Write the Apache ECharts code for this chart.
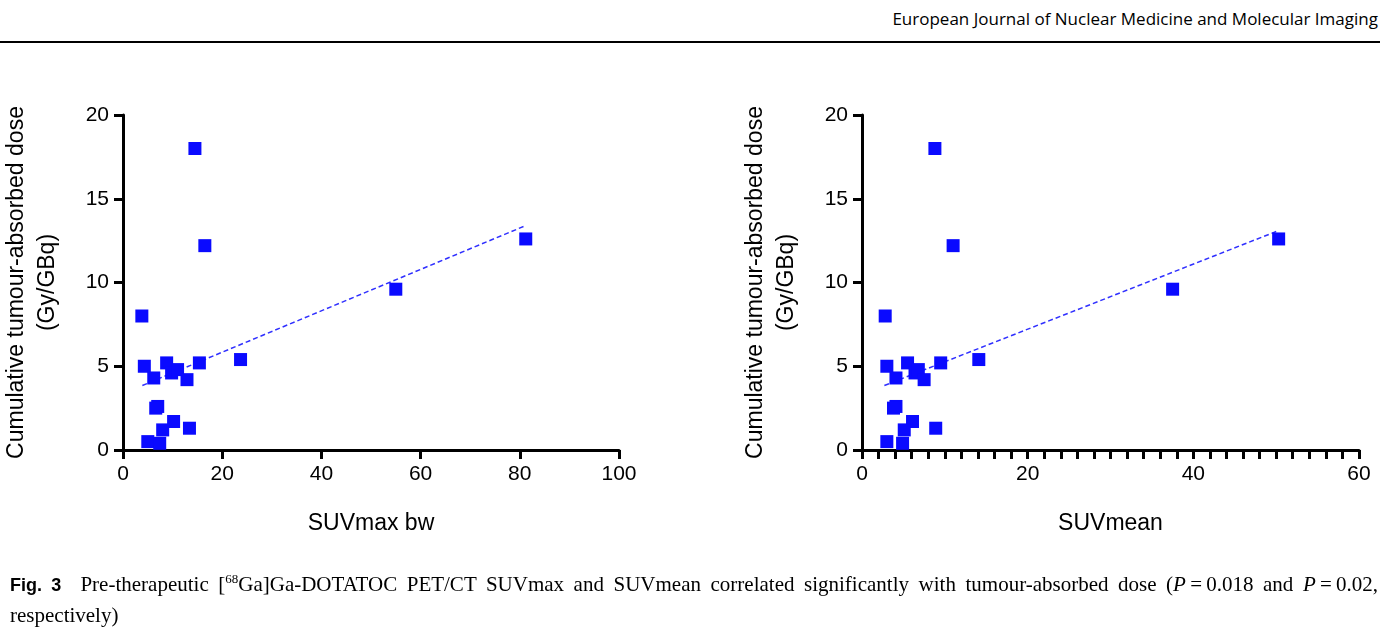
<!DOCTYPE html>
<html lang="en">
<head>
<meta charset="UTF-8">
<title>Fig. 3</title>
<script src="https://cdn.jsdelivr.net/npm/echarts@6/dist/echarts.min.js"></script>
<style>
	body{margin:0;background:#fff;}
	#head{position:absolute;left:0;top:0;width:1380px;height:41px;border-bottom:2px solid #000;}
	#head span{position:absolute;right:2px;top:7px;font-family:"Open Sans","Liberation Sans",sans-serif;font-size:17px;}
	#main{position:absolute;left:0;top:0;width:1387px;height:628px;}
	#cap{position:absolute;left:10px;top:564px;width:1368px;font-family:"Liberation Serif",serif;font-size:21px;line-height:30px;text-align:justify;}
	#cap b{font-family:"Liberation Sans",sans-serif;font-size:18px;}
</style>
</head>
<body>
<div id="head"><span>European Journal of Nuclear Medicine and Molecular Imaging</span></div>
<div id="main"></div>
<div id="cap"><b>Fig. 3</b>&nbsp; Pre-therapeutic [<sup style="font-size:13px">68</sup>Ga]Ga-DOTATOC PET/CT SUVmax and SUVmean correlated significantly with tumour-absorbed dose (<i>P</i>&thinsp;=&thinsp;0.018 and <i>P</i>&thinsp;=&thinsp;0.02, respectively)</div>
<script type="text/javascript">
// doses (Gy/GBq), same lesion order in both panels
var dose = [8.0, 5.0, 4.3, 5.2, 4.6, 4.8, 4.2, 5.2, 5.4, 2.6, 2.5, 1.7, 1.2, 1.3, 0.5, 0.4, 18.0, 12.2, 9.6, 12.6];
var suvMax = [3.8, 4.3, 6.2, 8.8, 9.8, 11.0, 12.9, 15.4, 23.7, 7.0, 6.6, 10.2, 8.0, 13.4, 5.0, 7.4, 14.5, 16.5, 55.0, 81.2];
var suvMean = [2.8, 3.0, 4.1, 5.5, 6.4, 6.8, 7.5, 9.5, 14.1, 4.1, 3.8, 6.1, 5.1, 8.9, 3.0, 4.9, 8.8, 11.0, 37.5, 50.3];
// fitted line endpoints
var fitMax = [[3.9, 3.85], [81.2, 13.4]];
var fitMean = [[2.7, 3.85], [50.3, 13.1]];

function pairs(xs, ys){
	var out = [];
	for (var i = 0; i < xs.length; i++) out.push([xs[i], ys[i]]);
	return out;
}

var font = '"Liberation Sans", Arial, sans-serif';
var axisLine = {show: true, onZero: false, lineStyle: {color: '#000', width: 3}};
var axisTick = {show: true, length: 9, lineStyle: {color: '#000', width: 3}};
var axisLabel = {color: '#000', fontSize: 21, fontFamily: font, margin: 14};
var yName = 'Cumulative tumour-absorbed dose\n(Gy/GBq)';

function xAxis(idx, max, interval, name, minor){
	return {gridIndex: idx, type: 'value', min: 0, max: max, interval: interval,
		name: name, nameLocation: 'middle', nameGap: 62,
		nameTextStyle: {color: '#000', fontSize: 23, fontFamily: font},
		axisLine: axisLine, axisTick: axisTick, axisLabel: axisLabel,
		minorTick: {show: minor, splitNumber: 10, length: 9, lineStyle: {color: '#000', width: 3}},
		splitLine: {show: false}};
}
function yAxis(idx){
	return {gridIndex: idx, type: 'value', min: 0, max: 20, interval: 5,
		name: yName, nameLocation: 'middle', nameGap: 60,
		nameTextStyle: {color: '#000', fontSize: 23, fontFamily: font, lineHeight: 31},
		axisLine: axisLine, axisTick: axisTick, axisLabel: axisLabel, splitLine: {show: false}};
}
function dots(idx, data){
	return {type: 'scatter', xAxisIndex: idx, yAxisIndex: idx, data: data, symbol: 'rect', symbolSize: 13,
		itemStyle: {color: '#0a0aff', opacity: 1}, z: 3};
}
function fit(idx, data){
	return {type: 'line', xAxisIndex: idx, yAxisIndex: idx, data: data, symbol: 'none',
		lineStyle: {color: '#3030ff', width: 1.5, type: [5, 3]}, z: 2};
}

var chart = echarts.init(document.getElementById('main'));
chart.setOption({
	animation: false,
	grid: [
		{left: 120, right: 768, top: 115, bottom: 178},
		{left: 862, right: 28, top: 115, bottom: 178}
	],
	xAxis: [xAxis(0, 100, 20, 'SUVmax bw', false), xAxis(1, 60, 20, 'SUVmean', true)],
	yAxis: [yAxis(0), yAxis(1)],
	series: [
		fit(0, fitMax), dots(0, pairs(suvMax, dose)),
		fit(1, fitMean), dots(1, pairs(suvMean, dose))
	]
});
</script>
</body>
</html>
